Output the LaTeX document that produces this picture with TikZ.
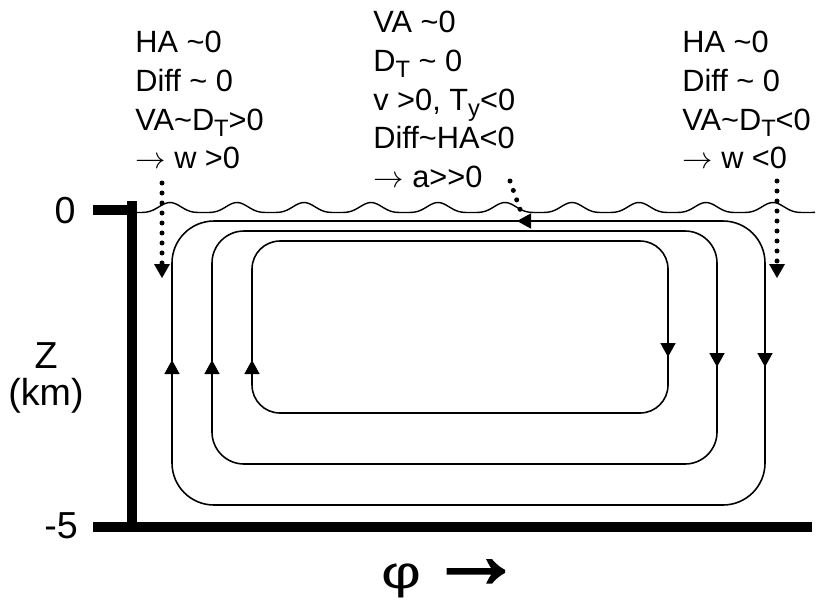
\documentclass[tikz,border=0pt]{standalone}
\usepackage{fontspec}
\setmainfont{Liberation Sans}
\newfontfamily\arrowfont[FakeBold=2.5]{Liberation Sans}
\usetikzlibrary{arrows.meta,positioning}
\tikzset{declare function={wv(\t)=0.5+0.5*cos(5.3731*(\t-170));}}
\newcommand{\lowsub}[1]{\raisebox{-3.4pt}{\fontsize{13.5}{14}\selectfont #1}}

\begin{document}
\begin{tikzpicture}[x=0.02cm,y=-0.02cm,
    note/.style={anchor=north west,align=left,inner sep=0pt,
                 font=\fontsize{17.5}{22}\selectfont},
    axlabel/.style={inner sep=0pt,font=\fontsize{21.4}{23.5}\selectfont},
    cell/.style={draw,line width=0.9pt},
    flow/.style={line width=0.9pt,-{Triangle[width=0.3cm,length=0.28cm]}},
    dots/.style={line width=0.1cm,dash pattern=on 0pt off 0.2cm,line cap=round,
                 -{Triangle[width=0.32cm,length=0.28cm,line width=0pt]}},
    wall/.style={line width=0.2cm}]
  \useasboundingbox (0,0) rectangle (817,613);

  % basin walls and axis
  \draw[wall] (93,210) -- (137,210);
  \draw[wall] (132,201) -- (132,527);
  \draw[wall] (93,527) -- (812,527);
  \node[axlabel] (zero) at (65,211) {0};
  \node[axlabel] (five) at (61,526) {-5};
  \node[axlabel,align=center] (zlab) at (46,378) {Z\\[-2pt](km)};
  \node[axlabel,anchor=base west] (philab) at (381,588)
    {{\fontsize{26}{26}\selectfont\scalebox{1.35}[1]{φ}}\hspace{4pt}{\arrowfont\fontsize{54}{54}\selectfont\raisebox{0.5pt}{→}}};

  % sea surface
  \draw[line width=0.8pt] plot[domain=137:815,samples=300,smooth]
    (\x,{212.5-10*wv(\x)*wv(\x)});

  % overturning cells
  \draw[cell,rounded corners=0.84cm] (172,221) rectangle (765,505);
  \draw[cell,rounded corners=0.64cm] (212,231) rectangle (717,464);
  \draw[cell,rounded corners=0.56cm] (252,241) rectangle (668,413);
  \foreach \x in {172,212,252}
    \draw[flow] (\x,375) -- (\x,360);
  \draw[flow] (668,342) -- (668,357);
  \foreach \x in {717,765}
    \draw[flow] (\x,352) -- (\x,367);
  \draw[flow] (532,221) -- (517,221);

  % balances
  \node[note] (leftnote) at (135,31)
    {HA \textasciitilde0\\Diff \textasciitilde\ 0\\VA\textasciitilde D\lowsub{T}>0\\$\rightarrow$ w >0};
  \node[note] (midnote) at (373,11)
    {VA \textasciitilde0\\D\lowsub{T} \textasciitilde\ 0\\v >0, T\lowsub{y}<0\\Diff\textasciitilde HA<0\\$\rightarrow$ a>{}>0};
  \node[note] (rightnote) at (682,31)
    {HA \textasciitilde0\\Diff \textasciitilde\ 0\\VA\textasciitilde D\lowsub{T}<0\\$\rightarrow$ w <0};

  \coordinate (wtopl) at (162,183);
  \coordinate (wtipl) at (162,278);
  \coordinate (wtopr) at (777,181);
  \coordinate (wtipr) at (777,278);
  \coordinate (atop) at (510,181);
  \coordinate (aend) at (521,212);
  \draw[dots] (wtopl) -- (wtipl);
  \draw[dots] (wtopr) -- (wtipr);
  \draw[dots,-] (atop) -- (aend);
\end{tikzpicture}
\end{document}
